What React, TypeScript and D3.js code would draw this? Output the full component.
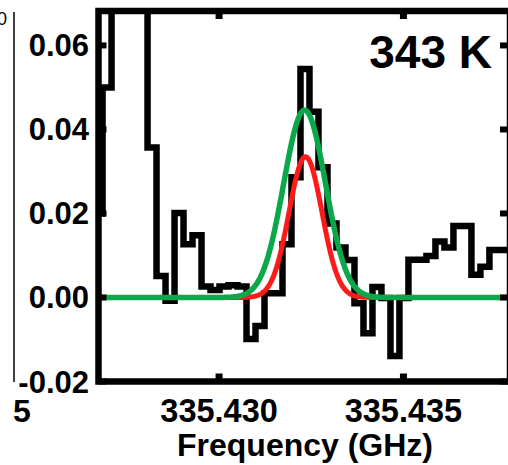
import React, { useMemo } from "react";
import * as d3 from "d3";

// Channel centres (GHz) and flux density of the observed spectrum
const FREQ = [
  335.426718, 335.426962, 335.427206, 335.42745, 335.427694, 335.427938,
  335.428182, 335.428426, 335.42867, 335.428914, 335.429158, 335.429402,
  335.429646, 335.42989, 335.430134, 335.430378, 335.430622, 335.430866,
  335.43111, 335.431354, 335.431598, 335.431842, 335.432086, 335.43233,
  335.432574, 335.432818, 335.433062, 335.433306, 335.43355, 335.433794,
  335.434038, 335.434282, 335.434526, 335.43477, 335.435014, 335.435258,
  335.435502, 335.435746, 335.43599, 335.436234, 335.436478, 335.436722,
  335.436966, 335.43721, 335.437454, 335.437698, 335.437942,
];
const FLUX = [
  0.02, 0.05, 0.082, 0.09, 0.085, 0.078,
  0.0357, 0.0051, -0.0008, 0.0201, 0.0127, 0.0148,
  0.0026, 0.0018, 0.0026, 0.0029, 0.0026, -0.0099,
  -0.0068, 0.001, 0.001, 0.0127, 0.0286, 0.0544,
  0.0442, 0.031, 0.0176, 0.0119, 0.0089, -0.0014,
  -0.0085, 0.0025, -0.0001, -0.0139, -0.0001, 0.009,
  0.009, 0.0099, 0.0133, 0.0119, 0.017, 0.017,
  0.0054, 0.0073, 0.0113, 0.0113, 0.0113,
];

// Gaussian line fits: total (green) and single component (red)
const FIT_TOTAL = { amp: 0.0446, center: 335.43232, sigma: 0.000569 };
const FIT_COMP = { amp: 0.0335, center: 335.432344, sigma: 0.000447 };

const Y_TICKS = [-0.02, 0.0, 0.02, 0.04, 0.06];
const Y_TICK_LABELS = ["-0.02", "0.00", "0.02", "0.04", "0.06"];
const X_TICKS = [335.43, 335.435];
const X_TICK_LABELS = ["335.430", "335.435"];

const X_DOMAIN = [335.42673, 335.43789];
const Y_DOMAIN = [-0.02, 0.0682];

const TEMP_LABEL = "343 K";
const X_TITLE = "Frequency (GHz)";

const W = 508;
const H = 465;
const M = { left: 98.5, right: 510, top: 11, bottom: 381.5 };
const FONT = "'Liberation Sans', Arial, Helvetica, sans-serif";

export default function App() {
  const x = d3.scaleLinear().domain(X_DOMAIN).range([M.left, M.right]);
  const y = d3.scaleLinear().domain(Y_DOMAIN).range([M.bottom, M.top]);

  const stepPath = useMemo(() => {
    const pts: [number, number][] = [];
    FREQ.forEach((f, i) => {
      const half =
        (i < FREQ.length - 1 ? FREQ[i + 1] - f : f - FREQ[i - 1]) / 2;
      pts.push([f - half, FLUX[i]]);
      pts.push([f + half, FLUX[i]]);
    });
    return d3
      .line<[number, number]>()
      .x((d) => x(d[0]))
      .y((d) => y(d[1]))(pts);
  }, []);

  const gaussPath = (p: { amp: number; center: number; sigma: number }) => {
    const xs = d3.range(X_DOMAIN[0], X_DOMAIN[1], 0.00001);
    return d3
      .line<number>()
      .x((f) => x(f))
      .y((f) => y(p.amp * Math.exp(-0.5 * ((f - p.center) / p.sigma) ** 2)))(
      xs
    );
  };

  const tickLen = 8;

  return (
    <svg
      width={W}
      height={H}
      style={{ position: "absolute", left: 0, top: 0, background: "#fff" }}
    >
      <defs>
        <clipPath id="plotClip">
          <rect
            x={M.left}
            y={M.top}
            width={M.right - M.left}
            height={M.bottom - M.top}
          />
        </clipPath>
      </defs>

      {/* edge of the neighbouring panel */}
      <line x1={14} x2={14} y1={12} y2={382} stroke="#111" strokeWidth={1.6} />
      <text
        x={7}
        y={25}
        textAnchor="end"
        fontFamily={FONT}
        fontSize={18}
        fill="#000"
      >
        0
      </text>
      <text
        x={13}
        y={422}
        fontFamily={FONT}
        fontWeight="bold"
        fontSize={32}
        fill="#000"
      >
        5
      </text>

      <g clipPath="url(#plotClip)">
        <path
          d={stepPath || ""}
          fill="none"
          stroke="#000"
          strokeWidth={6.5}
          strokeLinejoin="miter"
        />
        <path
          d={gaussPath(FIT_COMP) || ""}
          fill="none"
          stroke="#ff1a1a"
          strokeWidth={5}
        />
        <path
          d={gaussPath(FIT_TOTAL) || ""}
          fill="none"
          stroke="#0aa84a"
          strokeWidth={5.5}
        />
      </g>

      {/* frame */}
      <rect
        x={M.left}
        y={M.top}
        width={M.right - M.left}
        height={M.bottom - M.top}
        fill="none"
        stroke="#000"
        strokeWidth={6.5}
      />

      {/* ticks */}
      {X_TICKS.map((t) => (
        <g key={"xt" + t}>
          <line
            x1={x(t)}
            x2={x(t)}
            y1={M.bottom}
            y2={M.bottom - tickLen}
            stroke="#000"
            strokeWidth={7}
          />
          <line
            x1={x(t)}
            x2={x(t)}
            y1={M.top}
            y2={M.top + tickLen}
            stroke="#000"
            strokeWidth={7}
          />
        </g>
      ))}
      {Y_TICKS.map((t) => (
        <g key={"yt" + t}>
          <line
            x1={M.left}
            x2={M.left + tickLen}
            y1={y(t)}
            y2={y(t)}
            stroke="#000"
            strokeWidth={6}
          />
          <line
            x1={M.right}
            x2={M.right - tickLen - 2}
            y1={y(t)}
            y2={y(t)}
            stroke="#000"
            strokeWidth={6}
          />
        </g>
      ))}

      {/* tick labels */}
      {Y_TICKS.map((t, i) => (
        <text
          key={"yl" + t}
          x={89}
          y={y(t) + 11}
          textAnchor="end"
          fontFamily={FONT}
          fontWeight="bold"
          fontSize={31}
          fill="#000"
        >
          {Y_TICK_LABELS[i]}
        </text>
      ))}
      {X_TICKS.map((t, i) => (
        <text
          key={"xl" + t}
          x={x(t)}
          y={422}
          textAnchor="middle"
          fontFamily={FONT}
          fontWeight="bold"
          fontSize={32.5}
          fill="#000"
        >
          {X_TICK_LABELS[i]}
        </text>
      ))}

      <text
        x={305}
        y={456}
        textAnchor="middle"
        fontFamily={FONT}
        fontWeight="bold"
        fontSize={32}
        fill="#000"
      >
        {X_TITLE}
      </text>

      <text
        x={492}
        y={68}
        textAnchor="end"
        fontFamily={FONT}
        fontWeight="bold"
        fontSize={46}
        fill="#000"
      >
        {TEMP_LABEL}
      </text>
    </svg>
  );
}
